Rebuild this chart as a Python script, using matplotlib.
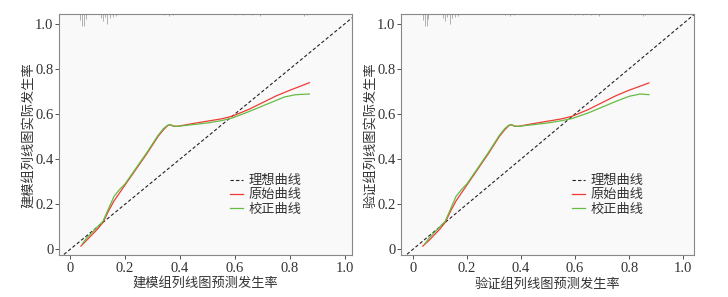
import matplotlib
matplotlib.use("Agg")
import matplotlib.pyplot as plt

plt.rcParams['font.family'] = ['Liberation Serif', 'Noto Sans CJK SC']

# calibration curves, modelling group
train_x_raw = [0.04, 0.06, 0.08, 0.10, 0.12, 0.14, 0.16, 0.18, 0.20, 0.24, 0.28, 0.32, 0.34,
               0.355, 0.365, 0.375, 0.39, 0.45, 0.50, 0.55, 0.59, 0.65, 0.70, 0.75, 0.80, 0.87]
train_y_raw = [0.015, 0.04, 0.065, 0.09, 0.12, 0.17, 0.215, 0.25, 0.285, 0.355, 0.425, 0.50, 0.53,
               0.548, 0.552, 0.546, 0.545, 0.558, 0.568, 0.578, 0.59, 0.62, 0.65, 0.68, 0.705, 0.738]
train_x_cal = [0.045, 0.06, 0.08, 0.10, 0.12, 0.14, 0.16, 0.18, 0.20, 0.24, 0.28, 0.32, 0.34,
               0.355, 0.365, 0.375, 0.39, 0.45, 0.50, 0.55, 0.59, 0.65, 0.70, 0.75, 0.78, 0.82, 0.87]
train_y_cal = [0.025, 0.05, 0.075, 0.10, 0.125, 0.18, 0.235, 0.265, 0.29, 0.36, 0.43, 0.505, 0.535,
               0.55, 0.553, 0.546, 0.545, 0.553, 0.56, 0.57, 0.582, 0.61, 0.635, 0.66, 0.675, 0.685, 0.688]

# calibration curves, validation group
valid_x_raw = [0.037, 0.06, 0.08, 0.10, 0.12, 0.14, 0.16, 0.18, 0.20, 0.24, 0.28, 0.32, 0.34,
               0.355, 0.365, 0.375, 0.39, 0.45, 0.50, 0.55, 0.59, 0.65, 0.70, 0.75, 0.80, 0.873]
valid_y_raw = [0.015, 0.04, 0.065, 0.09, 0.12, 0.17, 0.215, 0.25, 0.285, 0.355, 0.425, 0.50, 0.53,
               0.548, 0.552, 0.546, 0.545, 0.558, 0.568, 0.578, 0.59, 0.62, 0.65, 0.68, 0.705, 0.737]
valid_x_cal = [0.045, 0.06, 0.08, 0.10, 0.12, 0.14, 0.16, 0.18, 0.20, 0.24, 0.28, 0.32, 0.34,
               0.355, 0.365, 0.375, 0.39, 0.45, 0.50, 0.55, 0.59, 0.65, 0.70, 0.75, 0.80, 0.84, 0.873]
valid_y_cal = [0.025, 0.05, 0.075, 0.10, 0.125, 0.18, 0.235, 0.265, 0.29, 0.36, 0.43, 0.505, 0.535,
               0.55, 0.553, 0.546, 0.545, 0.553, 0.56, 0.57, 0.58, 0.605, 0.63, 0.655, 0.678, 0.688, 0.685]

# rug of predicted probabilities (position, length in px)
rug_x = [0.038, 0.045, 0.052, 0.058, 0.112, 0.12, 0.128, 0.136, 0.144, 0.155, 0.168,
         0.34, 0.36, 0.375, 0.60, 0.63, 0.66, 0.69, 0.85, 0.86]
rug_len = [6, 12, 12, 5, 4, 7, 3, 10, 4, 3, 2, 1, 2, 1, 1, 1, 1, 2, 2, 1]

ticks = [0, 0.2, 0.4, 0.6, 0.8, 1.0]
tick_labels = ['0', '0.2', '0.4', '0.6', '0.8', '1.0']
legend_labels = ['理想曲线', '原始曲线', '校正曲线']

panels = [
    ('建模组列线图预测发生率', '建模组列线图实际发生率', train_x_raw, train_y_raw, train_x_cal, train_y_cal,
     [0.081, 0.141, 0.4025, 0.811], (-0.04, 1.025)),
    ('验证组列线图预测发生率', '验证组列线图实际发生率', valid_x_raw, valid_y_raw, valid_x_cal, valid_y_cal,
     [0.551, 0.141, 0.4025, 0.811], (-0.043, 1.04)),
]

fig = plt.figure(figsize=(7.28, 2.97), dpi=100)
fig.patch.set_facecolor('white')

for xlabel, ylabel, xr, yr, xc, yc, rect, xlim in panels:
    ax = fig.add_axes(rect)
    ax.set_facecolor('#f9f9f9')
    ax.set_xlim(*xlim)
    ax.set_ylim(-0.025, 1.041)

    top = 1.041
    ax.vlines(rug_x, [top - l / 226 for l in rug_len], top, color='#b0b0b0', lw=0.7)

    ax.plot([-0.1, 1.1], [-0.1, 1.1], ls=(0, (3, 2)), color='#222222', lw=0.8, label=legend_labels[0])
    ax.plot(xr, yr, color='#ee3b34', lw=0.9, label=legend_labels[1])
    ax.plot(xc, yc, color='#66bb44', lw=0.9, label=legend_labels[2])

    ax.set_xticks(ticks)
    ax.set_xticklabels(tick_labels)
    ax.set_yticks(ticks)
    ax.set_yticklabels(tick_labels)
    ax.tick_params(labelsize=10.5, colors='#333333', length=3, width=0.6, pad=2)
    ax.tick_params(axis='y', pad=1)
    for s in ax.spines.values():
        s.set_color('#888888')
        s.set_linewidth(0.8)

    ax.set_xlabel(xlabel, fontsize=9.5, color='#333333', labelpad=2)
    ax.set_ylabel(ylabel, fontsize=9.5, color='#333333', labelpad=-1)

    ax.legend(loc='upper left', bbox_to_anchor=(0.56, 0.36), frameon=False, fontsize=9.5,
              handlelength=1.0, handletextpad=0.4, labelspacing=0.15, borderpad=0,
              labelcolor='#333333')

fig.savefig('out.png', dpi=100, facecolor='white')
